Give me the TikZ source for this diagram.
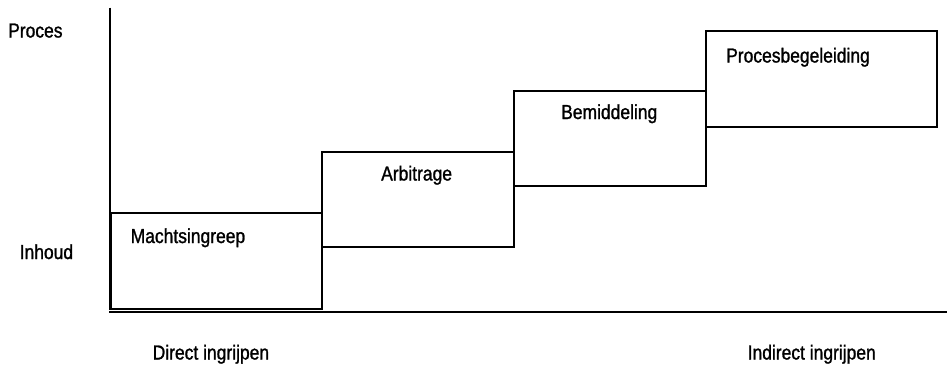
\documentclass[tikz,border=0pt]{standalone}
\usepackage{fontspec}
\setmainfont[FakeStretch=0.86,FakeBold=1.2]{Liberation Sans}
\begin{document}
\begin{tikzpicture}[x=1pt,y=-1pt,
  stepbox/.style={draw=black,line width=2pt,anchor=north west,inner sep=0pt,
    minimum width=#1,minimum height=95.5pt},
  lbl/.style={inner sep=0pt,font=\fontsize{20.3}{23}\selectfont},
  axis/.style={line width=2pt}]
\useasboundingbox (0,0) rectangle (947,367);
\node[stepbox=211pt] (b1) at (110,212) {};
\node[stepbox=192pt] (b2) at (321,150.5) {};
\node[stepbox=192pt] (b3) at (513,89.5) {};
\node[stepbox=231pt] (b4) at (705,30) {};
\coordinate (ytop) at (110,7.5);
\coordinate (xl) at (109,311.7);
\coordinate (xr) at (947,311.7);
\draw[axis] (ytop) -- (b1.south west);
\draw[axis] (xl) -- (xr);
\node[lbl,anchor=base west] (tp) at (8,37.5) {Proces};
\node[lbl,anchor=base west] (ti) at (19.5,259) {Inhoud};
\node[lbl,anchor=base west] (t1) at (130.5,243) {Machtsingreep};
\node[lbl,anchor=base west] (t2) at (381,180.5) {Arbitrage};
\node[lbl,anchor=base west] (t3) at (561,119) {Bemiddeling};
\node[lbl,anchor=base west] (t4) at (726,62.5) {Procesbegeleiding};
\node[lbl,anchor=base west] (td) at (152.5,359.5) {Direct ingrijpen};
\node[lbl,anchor=base east] (tn) at (876,359.5) {Indirect ingrijpen};
\end{tikzpicture}
\end{document}
